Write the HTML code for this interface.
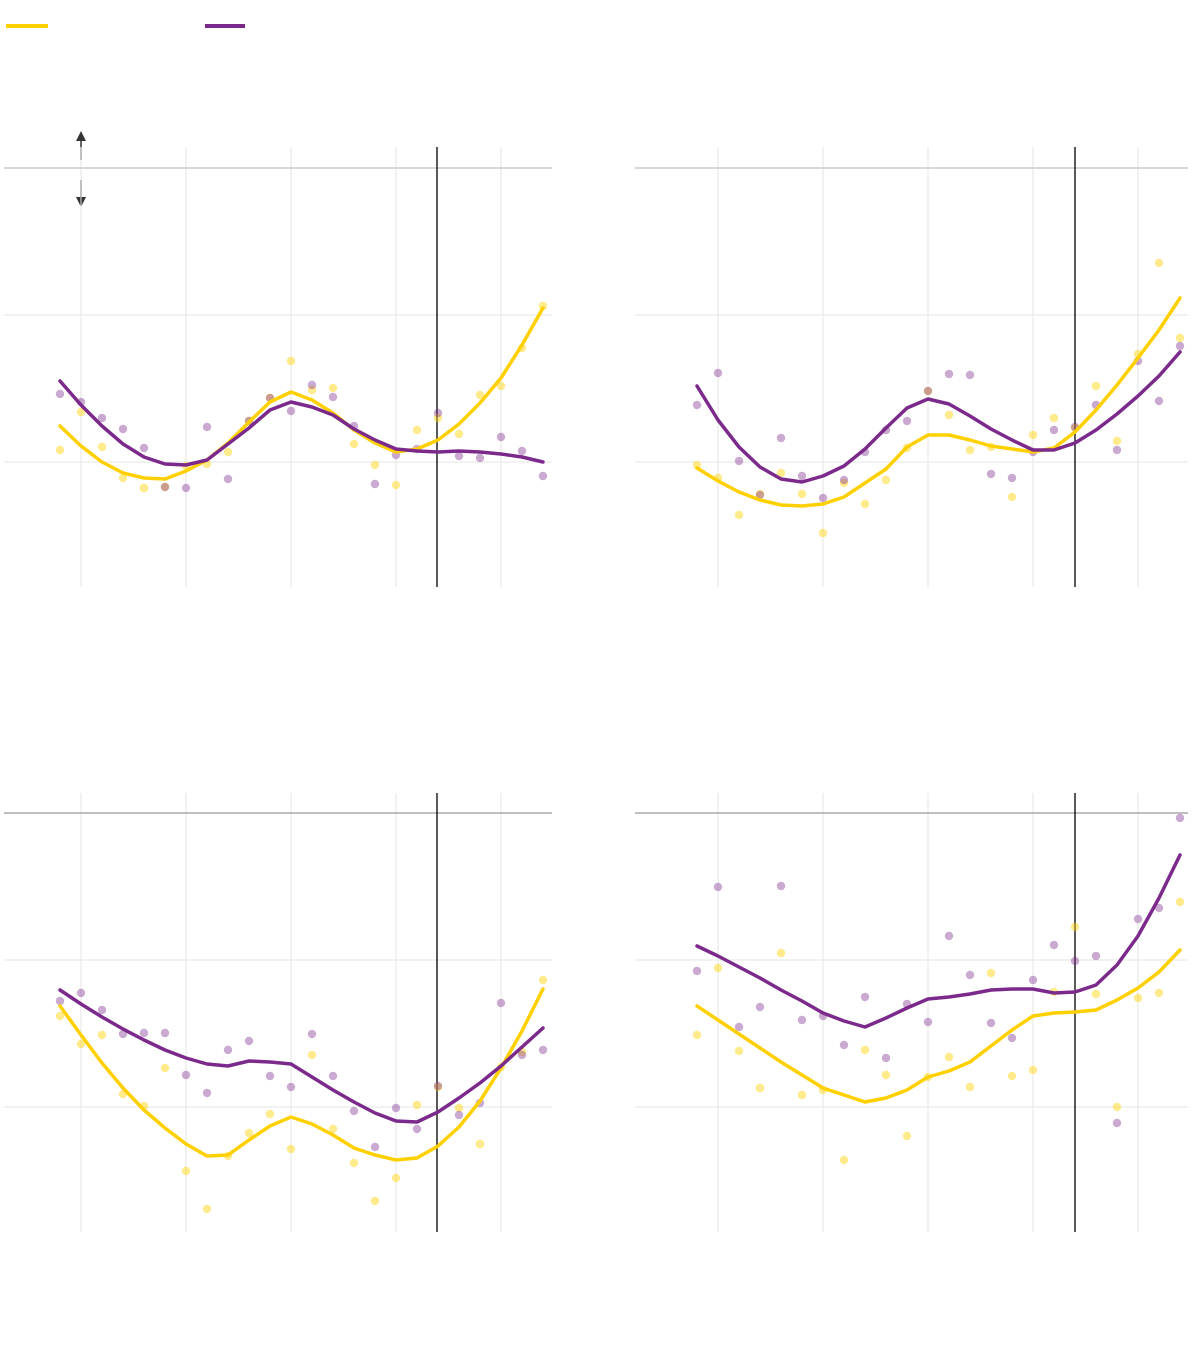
<!DOCTYPE html>
<html><head><meta charset="utf-8"><style>html,body{margin:0;padding:0;background:#fff}svg{display:block}</style></head>
<body>
<svg width="1200" height="1360" viewBox="0 0 1200 1360" xmlns="http://www.w3.org/2000/svg">
<rect width="1200" height="1360" fill="#fff"/>
<line x1="6" y1="26" x2="48" y2="26" stroke="#FFD000" stroke-width="4"/>
<line x1="205" y1="26" x2="245" y2="26" stroke="#7B2A8C" stroke-width="4"/>
<g stroke="#333" stroke-width="1.5"><line x1="81" y1="138" x2="81" y2="160"/><line x1="81" y1="180" x2="81" y2="200"/></g>
<polygon points="76,141 86,141 81,131" fill="#333"/><polygon points="76,197 86,197 81,207" fill="#333"/>
<g stroke="#e6e6e6" stroke-width="1">
<line x1="81" y1="147" x2="81" y2="587"/><line x1="186" y1="147" x2="186" y2="587"/><line x1="291" y1="147" x2="291" y2="587"/><line x1="396" y1="147" x2="396" y2="587"/><line x1="501" y1="147" x2="501" y2="587"/>
<line x1="4" y1="315" x2="552" y2="315"/><line x1="4" y1="462" x2="552" y2="462"/>
<line x1="718" y1="147" x2="718" y2="587"/><line x1="823" y1="147" x2="823" y2="587"/><line x1="928" y1="147" x2="928" y2="587"/><line x1="1033" y1="147" x2="1033" y2="587"/><line x1="1138" y1="147" x2="1138" y2="587"/>
<line x1="635" y1="315" x2="1188" y2="315"/><line x1="635" y1="462" x2="1188" y2="462"/>
<line x1="81" y1="793" x2="81" y2="1232"/><line x1="186" y1="793" x2="186" y2="1232"/><line x1="291" y1="793" x2="291" y2="1232"/><line x1="396" y1="793" x2="396" y2="1232"/><line x1="501" y1="793" x2="501" y2="1232"/>
<line x1="4" y1="960" x2="552" y2="960"/><line x1="4" y1="1107" x2="552" y2="1107"/>
<line x1="718" y1="793" x2="718" y2="1232"/><line x1="823" y1="793" x2="823" y2="1232"/><line x1="928" y1="793" x2="928" y2="1232"/><line x1="1033" y1="793" x2="1033" y2="1232"/><line x1="1138" y1="793" x2="1138" y2="1232"/>
<line x1="635" y1="960" x2="1188" y2="960"/><line x1="635" y1="1107" x2="1188" y2="1107"/>
</g>
<g stroke="#ccc" stroke-width="1.5"><line x1="4" y1="168" x2="552" y2="168"/><line x1="635" y1="168" x2="1188" y2="168"/></g>
<g stroke="#999" stroke-width="1.2"><line x1="4" y1="813" x2="552" y2="813"/><line x1="635" y1="813" x2="1188" y2="813"/></g>
<g stroke="#000" stroke-width="1.3"><line x1="437" y1="147" x2="437" y2="587"/><line x1="1075" y1="147" x2="1075" y2="587"/><line x1="437" y1="793" x2="437" y2="1232"/><line x1="1075" y1="793" x2="1075" y2="1232"/></g>

<g fill="none" stroke-width="8.4" stroke-linecap="round">
<path stroke="#FFD000" stroke-opacity="0.45" d="M60 450h0M81 412h0M102 447h0M123 478h0M144 488h0M165 487h0M186 466h0M207 464h0M228 452h0M249 421h0M270 398h0M291 361h0M312 390h0M333 388h0M354 444h0M375 465h0M396 485h0M417 430h0M438 418h0M459 434h0M480 395h0M501 386h0M522 348h0M543 306h0
M697 465h0M718 478h0M739 515h0M760 494h0M781 473h0M802 494h0M823 533h0M844 483h0M865 504h0M886 480h0M907 448h0M928 391h0M949 415h0M970 450h0M991 447h0M1012 497h0M1033 435h0M1054 418h0M1075 428h0M1096 386h0M1117 441h0M1138 354h0M1159 263h0M1180 338h0
M60 1016h0M81 1044h0M102 1035h0M123 1094h0M144 1106h0M165 1068h0M186 1171h0M207 1209h0M228 1156h0M249 1133h0M270 1114h0M291 1149h0M312 1055h0M333 1129h0M354 1163h0M375 1201h0M396 1178h0M417 1105h0M438 1087h0M459 1108h0M480 1144h0M501 1067h0M522 1052h0M543 980h0
M697 1035h0M718 968h0M739 1051h0M760 1088h0M781 953h0M802 1095h0M823 1090h0M844 1160h0M865 1050h0M886 1075h0M907 1136h0M928 1077h0M949 1057h0M970 1087h0M991 973h0M1012 1076h0M1033 1070h0M1054 992h0M1075 927h0M1096 994h0M1117 1107h0M1138 998h0M1159 993h0M1180 902h0"/>
<path stroke="#7B2A8C" stroke-opacity="0.4" d="M60 394h0M81 402h0M102 418h0M123 429h0M144 448h0M165 487h0M186 488h0M207 427h0M228 479h0M249 421h0M270 398h0M291 411h0M312 385h0M333 397h0M354 426h0M375 484h0M396 455h0M417 449h0M438 413h0M459 456h0M480 458h0M501 437h0M522 451h0M543 476h0
M697 405h0M718 373h0M739 461h0M760 495h0M781 438h0M802 476h0M823 498h0M844 480h0M865 452h0M886 430h0M907 421h0M928 391h0M949 374h0M970 375h0M991 474h0M1012 478h0M1033 452h0M1054 430h0M1075 427h0M1096 405h0M1117 450h0M1138 361h0M1159 401h0M1180 346h0
M60 1001h0M81 993h0M102 1010h0M123 1034h0M144 1033h0M165 1033h0M186 1075h0M207 1093h0M228 1050h0M249 1041h0M270 1076h0M291 1087h0M312 1034h0M333 1076h0M354 1111h0M375 1147h0M396 1108h0M417 1129h0M438 1086h0M459 1115h0M480 1103h0M501 1003h0M522 1055h0M543 1050h0
M697 971h0M718 887h0M739 1027h0M760 1007h0M781 886h0M802 1020h0M823 1016h0M844 1045h0M865 997h0M886 1058h0M907 1004h0M928 1022h0M949 936h0M970 975h0M991 1023h0M1012 1038h0M1033 980h0M1054 945h0M1075 961h0M1096 956h0M1117 1123h0M1138 919h0M1159 908h0M1180 818h0"/>
</g>

<g fill="none" stroke-width="3.5" stroke-linejoin="round" stroke-linecap="round">
<polyline stroke="#FFD000" points="60,426 81,446 102,462 123,473 144,478 165,479 186,471 207,460 228,443 249,422 270,402 291,392 312,400 333,413 354,430 375,443 396,452 417,449 438,440 459,424 480,403 501,378 522,345 543,308"/>
<polyline stroke="#7B2A8C" points="60,381 81,405 102,426 123,444 144,457 165,464 186,465 207,460 228,444 249,428 270,410 291,402 312,407 333,415 354,429 375,440 396,449 417,451 438,452 459,451 480,452 501,454 522,457 543,462"/>
<polyline stroke="#FFD000" points="697,468 718,481 739,492 760,500 781,505 802,506 823,504 844,497 865,483 886,469 907,447 928,435 949,435 970,440 991,446 1012,449 1033,452 1054,448 1075,432 1096,410 1117,385 1138,358 1159,330 1180,298"/>
<polyline stroke="#7B2A8C" points="697,386 718,420 739,447 760,467 781,479 802,482 823,476 844,466 865,449 886,428 907,408 928,399 949,404 970,416 991,429 1012,440 1033,450 1054,450 1075,443 1096,430 1117,414 1138,396 1159,376 1180,352"/>
<polyline stroke="#FFD000" points="60,1006 81,1035 102,1063 123,1088 144,1110 165,1128 186,1144 207,1156 228,1155 249,1140 270,1126 291,1117 312,1124 333,1135 354,1148 375,1155 396,1160 417,1158 438,1146 459,1127 480,1101 501,1068 522,1031 543,989"/>
<polyline stroke="#7B2A8C" points="60,990 81,1004 102,1017 123,1029 144,1040 165,1050 186,1058 207,1064 228,1066 249,1061 270,1062 291,1064 312,1077 333,1090 354,1102 375,1113 396,1121 417,1122 438,1112 459,1098 480,1083 501,1066 522,1047 543,1028"/>
<polyline stroke="#FFD000" points="697,1006 718,1020 739,1034 760,1048 781,1062 802,1075 823,1088 844,1095 865,1102 886,1098 907,1090 928,1077 949,1071 970,1062 991,1046 1012,1030 1033,1016 1054,1013 1075,1012 1096,1010 1117,1000 1138,988 1159,972 1180,950"/>
<polyline stroke="#7B2A8C" points="697,946 718,956 739,967 760,978 781,990 802,1001 823,1013 844,1021 865,1027 886,1018 907,1008 928,999 949,997 970,994 991,990 1012,989 1033,989 1054,993 1075,992 1096,985 1117,965 1138,936 1159,898 1180,855"/>
</g>
</svg>
</body></html>
